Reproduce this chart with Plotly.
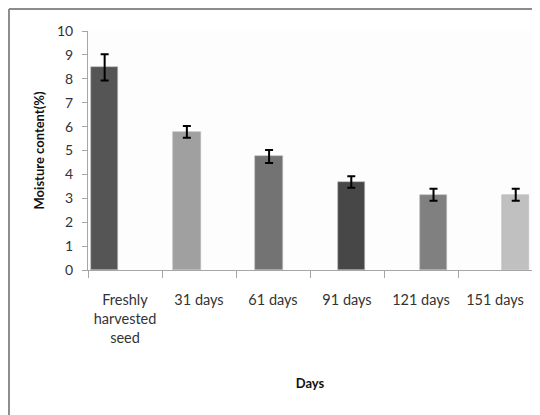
import plotly.graph_objects as go

categories = ["Freshly<br>harvested<br>seed", "31 days", "61 days", "91 days", "121 days", "151 days"]
moisture = [8.48, 5.78, 4.75, 3.68, 3.15, 3.15]
errors = [0.55, 0.25, 0.27, 0.24, 0.25, 0.25]
bar_colors = ["#555555", "#a0a0a0", "#737373", "#474747", "#808080", "#c0c0c0"]
y_ticks = [0, 1, 2, 3, 4, 5, 6, 7, 8, 9, 10]

bar_offsets = [-0.46, -0.349, -0.238, -0.127, -0.016, 0.095]

fig = go.Figure()
fig.add_trace(go.Bar(
    x=categories,
    y=moisture,
    width=0.37,
    offset=bar_offsets,
    marker=dict(color=bar_colors, line=dict(color="#bbbbbb", width=0.6)),
    error_y=dict(type="data", array=errors, visible=True, color="black",
                 thickness=2, width=4),
    showlegend=False,
))

font_family = "Lato, 'Open Sans', sans-serif"

fig.update_layout(
    width=532, height=407,
    margin=dict(l=80, r=8, t=23, b=145),
    paper_bgcolor="white",
    plot_bgcolor="#fdfdfd",
    bargap=0,
    font=dict(family=font_family, size=13, color="#333333"),
    xaxis=dict(
        type="category",
        showline=True, linecolor="#a6a6a6", linewidth=1,
        ticks="outside", tickson="boundaries", ticklen=7, tickcolor="#a6a6a6",
        tickfont=dict(size=14.5, color="#333333"),
        ticklabelstandoff=17,
        title=dict(text="<b>Days</b>", font=dict(size=13, color="#111111"), standoff=33),
        showgrid=False, zeroline=False,
        automargin=False,
    ),
    yaxis=dict(
        range=[0, 10], tickvals=y_ticks,
        showline=True, linecolor="#a6a6a6", linewidth=1,
        ticks="outside", ticklen=5, tickcolor="#a6a6a6",
        tickfont=dict(size=14, color="#333333"),
        ticklabelstandoff=6,
        title=dict(text="<b>Moisture content(%)</b>", font=dict(size=13, color="#111111"), standoff=9),
        showgrid=False, zeroline=False,
        automargin=False,
    ),
    shapes=[
        dict(type="line", xref="paper", yref="paper", x0=-0.178, x1=-0.178, y0=-1.0, y1=1.092,
             line=dict(color="#8c8c8c", width=2)),
        dict(type="line", xref="paper", yref="paper", x0=-0.178, x1=1.2, y0=1.092, y1=1.092,
             line=dict(color="#8c8c8c", width=2)),
    ],
)

fig.write_html("out.html")
